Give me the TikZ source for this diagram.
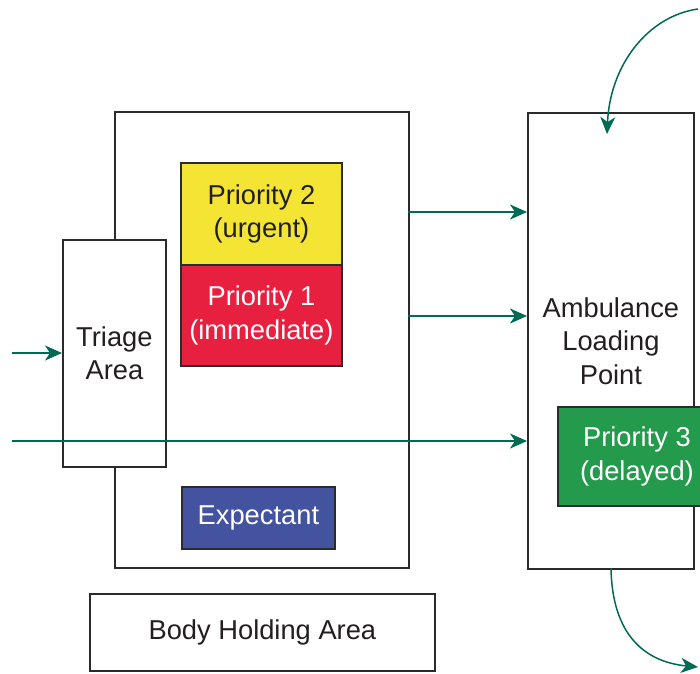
\documentclass[tikz,border=0pt]{standalone}
\usepackage{fontspec}
\setmainfont{Liberation Sans}
\usetikzlibrary{arrows.meta}
\definecolor{edge}{HTML}{2B2B2B}
\definecolor{txt}{HTML}{231F20}
\definecolor{arr}{HTML}{006B55}
\definecolor{pyellow}{HTML}{F4E535}
\definecolor{pred}{HTML}{E8203F}
\definecolor{pblue}{HTML}{4353A0}
\definecolor{pgreen}{HTML}{239A4C}
\tikzset{
  box/.style={draw=edge, line width=1.8pt, fill=white, anchor=north west,
    align=center, text=txt, inner sep=0pt,
    font=\fontsize{27.3}{33.5}\selectfont},
  colbox/.style={box, text=white},
  flow/.style={draw=arr, line width=1.5pt, -{Stealth[length=17pt, width=15pt, inset=5pt]}},
}
\begin{document}
\begin{tikzpicture}[x=1pt, y=-1pt]
\useasboundingbox (0,0) rectangle (700,673);
\clip (0,0) rectangle (700,673);
% treatment area
\node[box, minimum width=294pt, minimum height=456pt] (treat) at (114,111) {};
\node[box, minimum width=103pt, minimum height=227pt] (triage) at (62,239) {Triage\\Area};
\node[colbox, fill=pyellow, text=txt, minimum width=161pt, minimum height=102pt] (p2) at (180,162) {Priority 2\\(urgent)};
\node[colbox, fill=pred, minimum width=161pt, minimum height=101pt] (p1) at (180,264) {Priority 1\\(immediate)};
\node[colbox, fill=pblue, minimum width=153pt, minimum height=62pt] (exp) at (181,486) {Expectant};
\node[box, minimum width=345pt, minimum height=77pt] (body) at (89,593) {Body Holding Area};
% ambulance
\node[box, minimum width=166pt, minimum height=456pt] (amb) at (527,112) {Ambulance\\Loading\\Point};
\node[colbox, fill=pgreen, minimum width=158pt, minimum height=99pt] (p3) at (557,406) {Priority 3\\(delayed)};
% connectors
\coordinate (in1) at (12,353);
\coordinate (in2) at (12,441);
\coordinate (o1) at (408,212);
\coordinate (o2) at (408,316);
\coordinate (topin) at (698,9);
\coordinate (botout) at (698,667);
\draw[flow] (in1) -- (in1 -| triage.west);
\draw[flow] (in2) -- (in2 -| amb.west);
\draw[flow] (o1) -- (o1 -| amb.west);
\draw[flow] (o2) -- (o2 -| amb.west);
\draw[flow] (topin) .. controls (648,16) and (610,65) .. (607,134);
\draw[flow] (611,568) .. controls (612,635) and (645,662) .. (botout);
\end{tikzpicture}
\end{document}
